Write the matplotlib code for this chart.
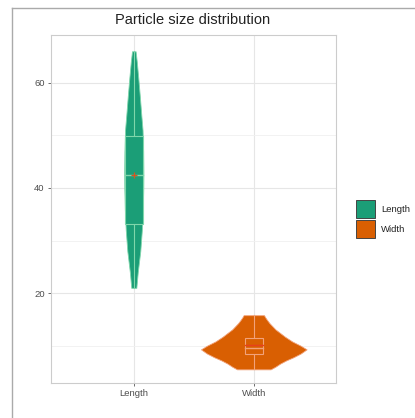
import matplotlib.pyplot as plt
from matplotlib.patches import Rectangle
from matplotlib.lines import Line2D

plt.rcParams['font.family'] = ['Liberation Sans', 'DejaVu Sans']

categories = ["Length", "Width"]
fills = ["#1b9e77", "#d95f02"]
edges = ["#7fd6ab", "#f2a27a"]

# violin outlines: value levels and half-widths (x units)
length_levels = [21, 24, 28, 32, 36, 40, 43, 47, 51, 54, 57.5, 61, 64, 66]
length_halfw = [0.021, 0.033, 0.054, 0.067, 0.075, 0.079, 0.08, 0.078, 0.073,
                0.062, 0.05, 0.037, 0.025, 0.015]
width_levels = [5.5, 6.0, 6.6, 7.2, 7.8, 8.5, 9.3, 10.0, 10.8, 11.7, 12.4,
                13.1, 13.7, 14.3, 14.9, 15.4, 15.8]
width_halfw = [0.14, 0.18, 0.22, 0.27, 0.33, 0.39, 0.44, 0.39, 0.32, 0.26, 0.22,
               0.18, 0.155, 0.13, 0.11, 0.095, 0.085]

# box statistics: low whisker, Q1, median, Q3, high whisker, mean
length_stats = [21, 33.1, 42.5, 49.8, 66, 42.5]
width_stats = [5.5, 8.4, 9.6, 11.4, 15.8, 10.1]

violins = [(length_levels, length_halfw), (width_levels, width_halfw)]
stats = [length_stats, width_stats]

fig = plt.figure(figsize=(4.15, 4.18), dpi=100)
ax = fig.add_axes([51/415, 35/418, 285/415, 348/418])

for i, (lv, hw) in enumerate(violins):
    x = i + 1
    ax.fill_betweenx(lv, [x - w for w in hw], [x + w for w in hw],
                     facecolor=fills[i], edgecolor=edges[i], lw=0.6, zorder=3)
    lo, q1, med, q3, hi, mean = stats[i]
    bw = 0.075
    ax.plot([x, x], [lo, q1], color=edges[i], lw=0.8, zorder=4)
    ax.plot([x, x], [q3, hi], color=edges[i], lw=0.8, zorder=4)
    ax.add_patch(Rectangle((x - bw, q1), 2 * bw, q3 - q1, facecolor=fills[i],
                           edgecolor=edges[i], lw=0.8, zorder=4))
    ax.plot([x - bw, x + bw], [med, med], color=edges[i], lw=1.0, zorder=5)
    if i == 0:
        ax.plot([x], [mean], marker='+', color="#d9541e", ms=5, mew=0.9, zorder=6)
    else:
        ax.plot([x - bw, x + bw], [mean, mean], color="#e8401c", lw=1.0, zorder=6)

ax.set_xlim(0.31, 2.685)
ax.set_ylim(2.9, 69.1)
ax.set_xticks([1, 2])
ax.set_xticklabels(categories)
ax.set_yticks([20, 40, 60])
ax.set_yticks([10, 30, 50], minor=True)
ax.grid(True, which='major', color="#e6e6e6", lw=0.8, zorder=0)
ax.grid(True, which='minor', axis='y', color="#f0f0f0", lw=0.6, zorder=0)
ax.set_axisbelow(True)
for s in ax.spines.values():
    s.set_color("#cccccc")
    s.set_linewidth(0.8)
ax.tick_params(axis='both', which='major', labelsize=6.8, labelcolor="#4d4d4d",
               color="#555555", length=2.5, width=0.6, pad=2)
ax.tick_params(axis='y', which='minor', length=0)

fig.text(193/415, 1 - 20/418, "Particle size distribution", ha='center', va='center',
         fontsize=10.5, color="#222222")

# legend keys, drawn in figure pixels
W, H = 415, 418
for i, name in enumerate(categories):
    top = 200 + i * 20
    fig.add_artist(Rectangle((356/W, 1 - (top + 18)/H), 19/W, 18/H, facecolor=fills[i],
                             edgecolor="#444444", lw=0.7, transform=fig.transFigure))
    fig.text(381/W, 1 - (top + 9)/H, name, ha='left', va='center', fontsize=6.8,
             color="#222222")

# frame lines of the cropped screenshot
fig.add_artist(Line2D([12/W, 1], [1 - 8/H, 1 - 8/H], color="#aaaaaa", lw=1.0))
fig.add_artist(Line2D([12/W, 12/W], [0, 1 - 8/H], color="#aaaaaa", lw=1.0))

fig.savefig("out.png", dpi=100)
